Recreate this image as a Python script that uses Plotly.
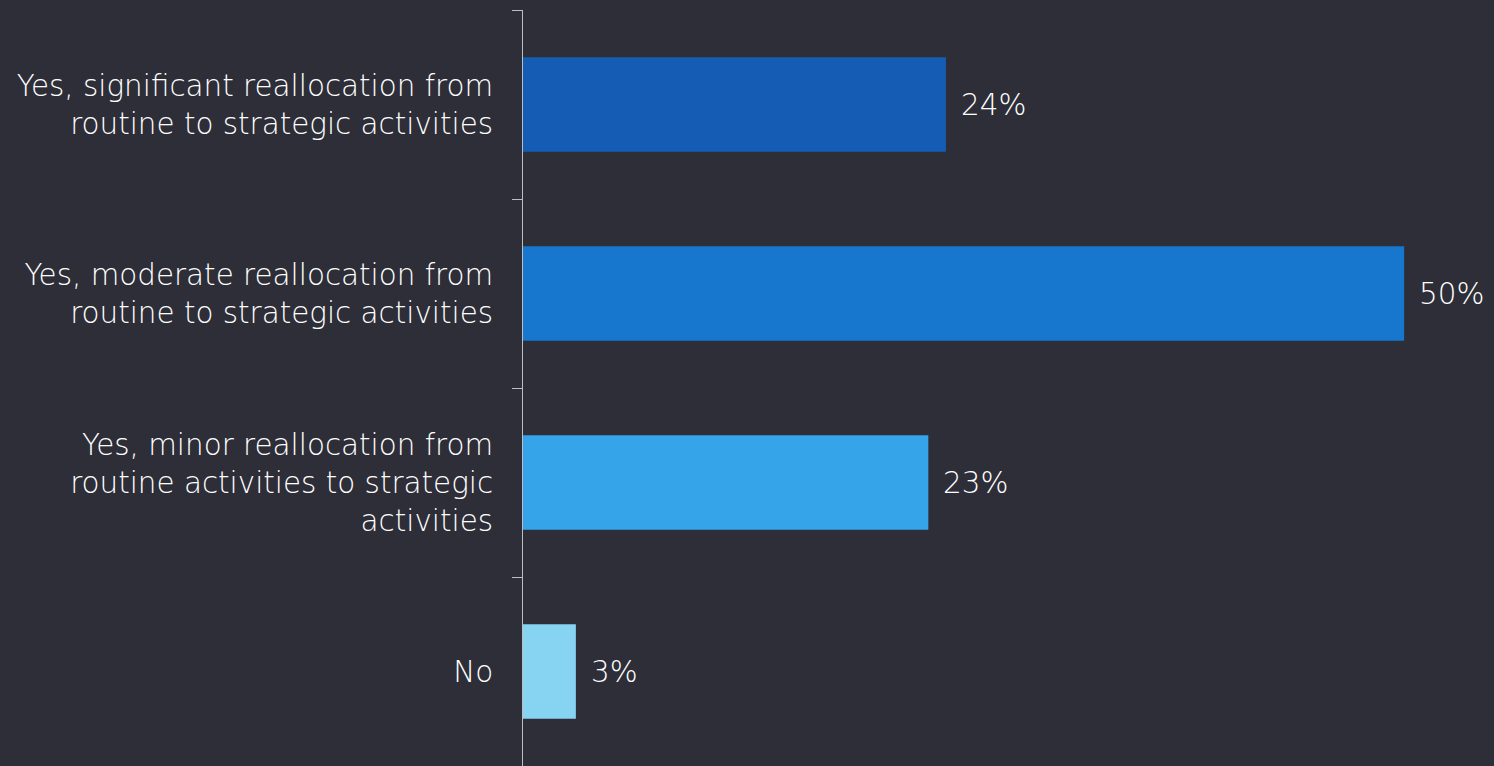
import plotly.graph_objects as go

# Survey responses, listed top to bottom
categories = [
    "Yes, significant reallocation from<br>routine to strategic activities",
    "Yes, moderate reallocation from<br>routine to strategic activities",
    "Yes, minor reallocation from<br>routine activities to strategic<br>activities",
    "No",
]
values = [24, 50, 23, 3]
bar_colors = ["#155CB4", "#1777CF", "#35A4E8", "#87D3F2"]

BG = "#2E2E38"
TEXT = "#FFFFFF"
FONT = "DejaVu Sans"
SIZE = 29.4

fig = go.Figure(
    go.Bar(
        x=values,
        y=categories,
        orientation="h",
        marker=dict(color=bar_colors, line=dict(width=0)),
        hoverinfo="skip",
    )
)

# Percentage labels to the right of each bar
for cat, val in zip(categories, values):
    fig.add_annotation(
        x=val, y=cat, text=f"{val}%", showarrow=False,
        xanchor="left", yanchor="middle", xshift=13,
        font=dict(family=FONT, size=SIZE, color=TEXT, weight=200),
    )

fig.update_layout(
    width=1494, height=766,
    margin=dict(l=523, r=0, t=10, b=0),
    paper_bgcolor=BG, plot_bgcolor=BG,
    bargap=0.5,
    showlegend=False,
    font=dict(family=FONT, size=SIZE, color=TEXT, weight=200),
)
fig.update_xaxes(visible=False, range=[0, 55.1])
fig.update_yaxes(
    categoryorder="array", categoryarray=categories, autorange="reversed",
    showline=True, linecolor="#BDBDC2", linewidth=1,
    ticks="outside", tickson="boundaries", ticklen=10, tickcolor="#BDBDC2",
    showgrid=False, zeroline=False,
    ticklabelstandoff=23,
    tickfont=dict(family=FONT, size=SIZE, color=TEXT, weight=200),
)

fig.write_html("out.html")
